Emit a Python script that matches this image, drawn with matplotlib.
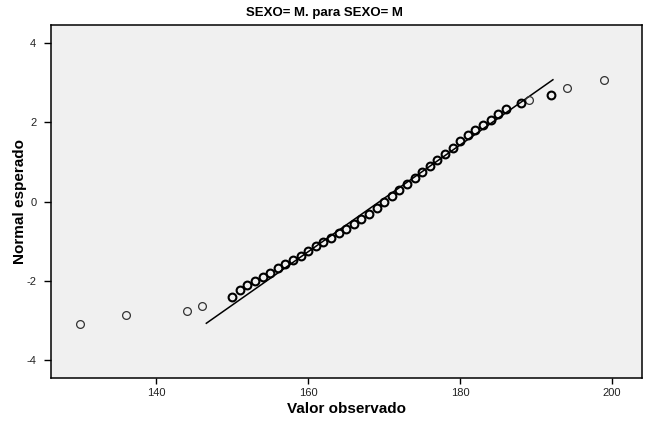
#!/usr/bin/env python3
"""Q-Q normal plot: SEXO= M. para SEXO= M"""
import matplotlib
matplotlib.use('Agg')
import matplotlib.pyplot as plt

plt.rcParams['axes.unicode_minus'] = False

valores = [130, 136, 144, 146, 150, 151, 152, 153, 154, 155, 156, 157, 158,
           159, 160, 161, 162, 163, 164, 165, 166, 167, 168, 169, 170, 171,
           172, 173, 174, 175, 176, 177, 178, 179, 180, 181, 182, 183, 184,
           185, 186, 188, 189, 192, 194, 199]
normal_esperado = [-3.08, -2.87, -2.75, -2.63, -2.40, -2.23, -2.10, -2.00,
                   -1.90, -1.80, -1.67, -1.57, -1.47, -1.37, -1.24, -1.12,
                   -1.02, -0.92, -0.79, -0.69, -0.56, -0.44, -0.31, -0.16,
                   -0.01, 0.14, 0.30, 0.45, 0.60, 0.75, 0.90, 1.05, 1.20,
                   1.35, 1.53, 1.68, 1.81, 1.93, 2.06, 2.21, 2.34, 2.49,
                   2.56, 2.69, 2.87, 3.07]
# values seen only once (drawn with a thin edge)
unicos = [130, 136, 144, 146, 189, 194, 199]

# reference line: mean and standard deviation
media = 169.4
desv = 7.43

fig = plt.figure(figsize=(6.48, 4.24), dpi=100)
ax = fig.add_axes([0.0782, 0.1085, 0.9121, 0.8325])
ax.set_facecolor('#f0f0f0')

z_min, z_max = -3.07, 3.07
ax.plot([media + z_min * desv, media + z_max * desv], [z_min, z_max],
        color='black', lw=1.1, zorder=2)

thin_x = [x for x in valores if x in unicos]
thin_y = [y for x, y in zip(valores, normal_esperado) if x in unicos]
bold_x = [x for x in valores if x not in unicos]
bold_y = [y for x, y in zip(valores, normal_esperado) if x not in unicos]
ax.plot(thin_x, thin_y, 'o', ms=5.6, mfc='none', mec='#333333', mew=0.9, zorder=3)
ax.plot(bold_x, bold_y, 'o', ms=5.6, mfc='none', mec='black', mew=1.5, zorder=3)

ax.set_xlim(126.1, 203.9)
ax.set_ylim(-4.45, 4.45)
ax.set_xticks([140, 160, 180, 200])
ax.set_yticks([-4, -2, 0, 2, 4])

for s in ax.spines.values():
    s.set_color('black')
    s.set_linewidth(1.1)
ax.tick_params(direction='out', width=1, color='black',
               labelsize=8, labelcolor='#222222')
ax.tick_params(axis='x', length=4.5, pad=3)
ax.tick_params(axis='y', length=4.8, pad=5.5)
for lab in ax.get_xticklabels() + ax.get_yticklabels():
    lab.set_family('Liberation Sans')

ax.set_xlabel('Valor observado', fontsize=11, fontweight='bold',
              family='Liberation Sans', labelpad=2.5)
ax.set_ylabel('Normal esperado', fontsize=11, fontweight='bold',
              family='Liberation Sans')
ax.yaxis.set_label_coords(-0.040, 0.5)
fig.text(0.5, 0.970, 'SEXO= M. para SEXO= M', ha='center', va='center',
         fontsize=9.5, fontweight='bold', family='Liberation Sans')

fig.savefig('out.png', dpi=100)
